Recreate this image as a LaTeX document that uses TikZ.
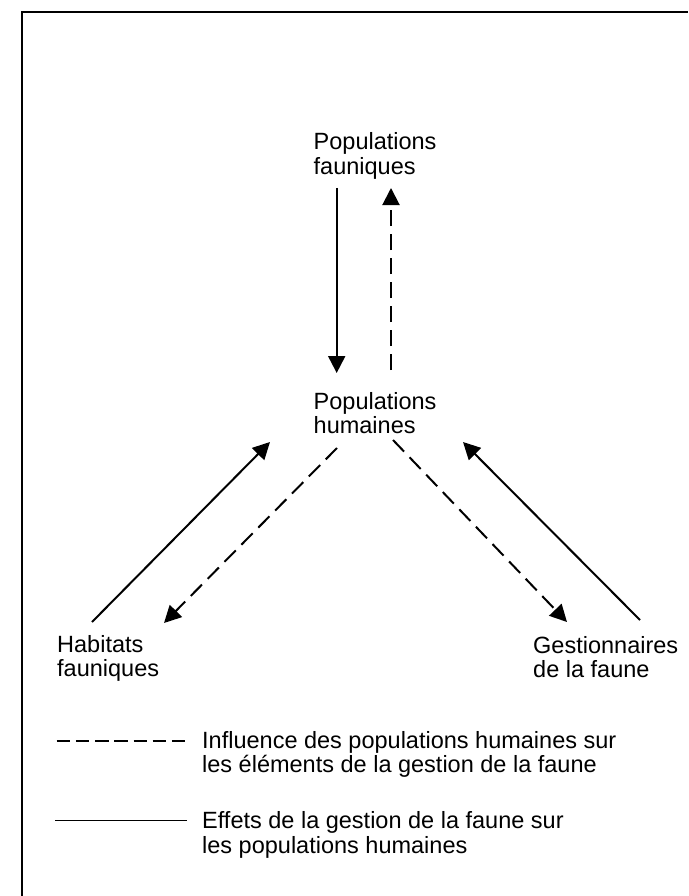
\documentclass[tikz,border=0pt]{standalone}
\usepackage{fontspec}
\setmainfont{Liberation Sans}
\usetikzlibrary{arrows.meta}
\begin{document}
\begin{tikzpicture}[x=1pt,y=-1pt,
  lbl/.style={anchor=north west, inner sep=0pt, align=left, font=\fontsize{23.5}{24.7}\selectfont},
  solidarrow/.style={line width=2pt, -{Triangle[length=17pt,width=17pt]}},
  dashedarrow/.style={solidarrow, dash pattern=on 16pt off 8pt},
  legsolid/.style={line width=1.8pt},
  legdashed/.style={line width=1.8pt, dash pattern=on 13.5pt off 5.7pt},
  frameline/.style={line width=1.8pt}]
\useasboundingbox (0,0) rectangle (688,896);
% frame
\coordinate (fbl) at (22,896);
\coordinate (ftl) at (22,12);
\coordinate (ftr) at (688,12);
\draw[frameline] (fbl) -- (ftl) -- (ftr);
% nodes
\node[lbl] (pf) at (313.5,132.5) {Populations\\fauniques};
\node[lbl] (ph) at (313.5,392) {Populations\\humaines};
\node[lbl] (hf) at (57,635) {Habitats\\fauniques};
\node[lbl] (gf) at (533,636) {Gestionnaires\\de la faune};
\node[lbl] (lg1) at (202,731) {Influence des populations humaines sur\\les éléments de la gestion de la faune};
\node[lbl] (lg2) at (202,811.5) {Effets de la gestion de la faune sur\\les populations humaines};
% arrow end points
\coordinate (pfdown) at (336.7,188);
\coordinate (phup) at (336.7,373);
\coordinate (phup2) at (391,370);
\coordinate (pfdown2) at (391,188);
\coordinate (hfne) at (92,622);
\coordinate (phsw) at (270,442);
\coordinate (phsw2) at (337,448);
\coordinate (hfne2) at (164,623);
\coordinate (phse) at (393,440);
\coordinate (gfnw) at (567,622);
\coordinate (gfnw2) at (640,620);
\coordinate (phse2) at (463,442);
\draw[solidarrow] (pfdown) -- (phup);
\draw[dashedarrow] (phup2) -- (pfdown2);
\draw[solidarrow] (hfne) -- (phsw);
\draw[dashedarrow] (phsw2) -- (hfne2);
\draw[dashedarrow] (phse) -- (gfnw);
\draw[solidarrow] (gfnw2) -- (phse2);
% legend lines
\coordinate (l1a) at (56.7,740.7);
\coordinate (l1b) at (185,740.7);
\coordinate (l2a) at (55,820.5);
\coordinate (l2b) at (187,820.5);
\draw[legdashed] (l1a) -- (l1b);
\draw[legsolid] (l2a) -- (l2b);
\end{tikzpicture}
\end{document}
